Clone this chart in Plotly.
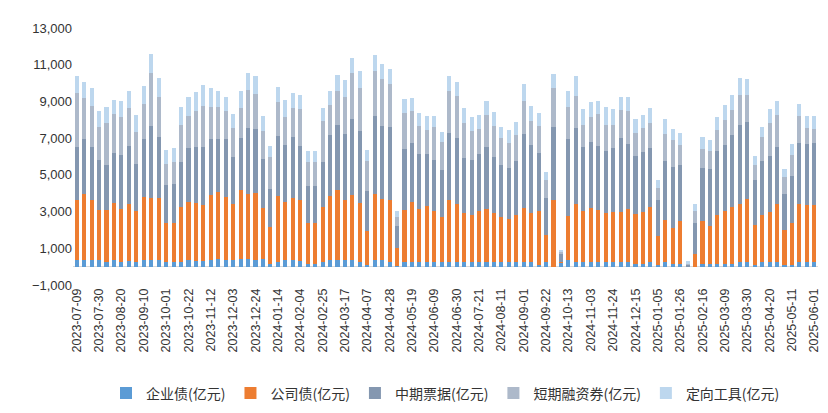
import plotly.graph_objects as go
import pandas as pd
import numpy as np

dates = pd.date_range("2023-07-09", periods=100, freq="7D").strftime("%Y-%m-%d").tolist()

# cumulative tops (亿元)
ent = [340, 340, 340, 340, 270, 340, 270, 300, 270, 370, 370, 370, 230, 230, 270, 340, 300, 300, 340, 440, 370, 370, 440, 440, 370,
       430, 150, 270, 340, 340, 300, 150, 150, 230, 340, 340, 340, 370, 270, 110, 370, 340, 270, 40, 270, 270, 270, 270, 270,
       230, 270, 270, 230, 230, 270, 270, 230, 230, 230, 270, 270, 270, 110, 270, 0, 230, 340, 270, 230, 230, 270, 230, 230,
       270, 270, 150, 150, 230, 110, 230, 150, 150, 0, 0, 150, 150, 150, 150, 150, 270, 270, 110, 230, 230, 230, 110, 110,
       230, 230, 230]
corp_top = [3635, 3936, 3635, 3103, 3103, 3457, 3156, 3404, 3050, 3777, 3741, 3741, 2394, 2394, 3245, 3528, 3457, 3351, 3883, 4060,
            3777, 3404, 4166, 3954, 4007, 3209, 2181, 3830, 3528, 3741, 3635, 2358, 2358, 3245, 3830, 4166, 3635, 3883, 3457, 1968,
            3954, 3670, 3635, 1028, 3103, 3528, 3156, 3316, 3050, 2730, 3635, 3422, 2943, 2819, 3050, 3156, 2943, 2730, 2571, 2819,
            3209, 2943, 3050, 1720, 3635, 248, 2784, 3422, 3050, 3209, 3103, 2943, 2996, 2996, 3156, 2890, 2996, 3262, 1667, 2518,
            2092, 2465, 0, 709, 2465, 2199, 2837, 3050, 3262, 3422, 3688, 2252, 2837, 2996, 3422, 1986, 2358, 3422, 3369, 3369]
mtn_top = [6507, 6932, 6507, 5815, 5550, 6188, 6081, 6560, 5603, 6932, 7677, 7039, 4433, 4503, 5727, 6454, 6507, 6507, 6932, 6932,
           6932, 5975, 6986, 7571, 7518, 5869, 4237, 7110, 6613, 7039, 6560, 4379, 4379, 5727, 7163, 7730, 7252, 8049, 7411, 4113,
           8209, 7677, 7624, 2199, 6400, 6720, 6134, 6134, 5815, 5284, 7305, 7004, 5922, 5815, 6134, 6507, 5975, 5550, 5390, 5762,
           7252, 6613, 6188, 3741, 7624, 709, 6932, 7571, 6507, 6773, 6560, 6294, 6454, 6986, 6667, 6028, 6241, 6454, 3635, 5762,
           5443, 5550, 124, 2376, 5390, 5337, 6294, 6613, 7145, 7730, 7890, 4698, 5762, 6028, 6507, 3954, 4964, 6720, 6667, 6720]
cp_top = [9486, 9167, 8776, 7624, 7819, 8298, 8138, 8635, 7340, 8883, 10550, 9255, 5603, 5709, 7730, 8209, 8457, 8776, 8723, 8670,
          8457, 7553, 8617, 9627, 9415, 7411, 5975, 8954, 8156, 8635, 8581, 5709, 5709, 7943, 8794, 9592, 9255, 10550, 9734, 5762,
          10656, 10213, 9947, 2713, 8351, 8475, 7677, 7464, 7624, 6773, 9592, 9273, 7819, 7411, 7518, 8262, 7677, 6986, 6720, 7145,
          9007, 7943, 7677, 4734, 9734, 851, 8688, 9309, 7712, 8156, 8315, 7730, 7730, 8511, 8475, 7287, 7571, 7819, 4273, 7252,
          6879, 6613, 195, 3050, 6400, 6294, 7464, 7996, 8511, 9362, 9362, 5550, 7039, 7819, 8262, 4858, 6081, 8209, 7571, 7518]
ppn_top = [10372, 10053, 9734, 8457, 8670, 9096, 9043, 9574, 8245, 9840, 11596, 10266, 6330, 6489, 8670, 9255, 9521, 9893, 9734, 9574,
           9255, 8298, 9574, 10532, 10372, 8191, 6596, 9787, 9096, 9468, 9362, 6276, 6276, 8617, 9574, 10426, 10159, 11383, 10638, 6330,
           11543, 11064, 10744, 3032, 9149, 9202, 8351, 8191, 8191, 7340, 10372, 10053, 8617, 8138, 8245, 9043, 8404, 7606, 7447, 7872,
           9947, 8776, 8351, 5160, 10479, 922, 9574, 10372, 8564, 8989, 9043, 8670, 8564, 9255, 9255, 8032, 8245, 8617, 4734, 8032,
           7500, 7287, 301, 3404, 7074, 6915, 8138, 8830, 9362, 10301, 10248, 6046, 7606, 8564, 9043, 5301, 6667, 8883, 8191, 8191]

ent = np.array(ent)
corp = np.clip(np.array(corp_top) - ent, 0, None)
mtn = np.array(mtn_top) - np.array(corp_top)
cp = np.array(cp_top) - np.array(mtn_top)
ppn = np.array(ppn_top) - np.array(cp_top)

series = [("企业债(亿元)", ent, "#5B9BD5"),
          ("公司债(亿元)", corp, "#ED7D31"),
          ("中期票据(亿元)", mtn, "#8497B0"),
          ("短期融资券(亿元)", cp, "#ADB9CA"),
          ("定向工具(亿元)", ppn, "#BDD7EE")]

fig = go.Figure()
for name, vals, col in series:
    fig.add_trace(go.Bar(x=dates, y=vals, name=name, marker_color=col, marker_line_width=0))

fig.update_layout(
    barmode="stack", bargap=0.45,
    width=828, height=413,
    margin=dict(l=65, r=18, t=20, b=130),
    plot_bgcolor="white", paper_bgcolor="white",
    font=dict(family="Noto Sans CJK SC, Liberation Sans", size=13, color="#333"),
    legend=dict(orientation="h", x=0.5, xanchor="center", y=-0.36, yanchor="top",
                traceorder="normal", font=dict(size=14), itemwidth=30,
                entrywidthmode="pixels", entrywidth=0),
)
fig.update_xaxes(type="category", tickvals=dates[::3], ticktext=dates[::3], tickangle=-90,
                 tickfont=dict(size=12.5, family="Liberation Sans"), showline=False, automargin=False)
fig.update_yaxes(range=[-1000, 13000], tick0=-1000, dtick=2000, tickformat=",",
                 showgrid=False, zeroline=True, zerolinecolor="#D9D9D9", zerolinewidth=1,
                 tickfont=dict(size=13, family="Liberation Sans"), automargin=False)

fig.write_html("out.html")
